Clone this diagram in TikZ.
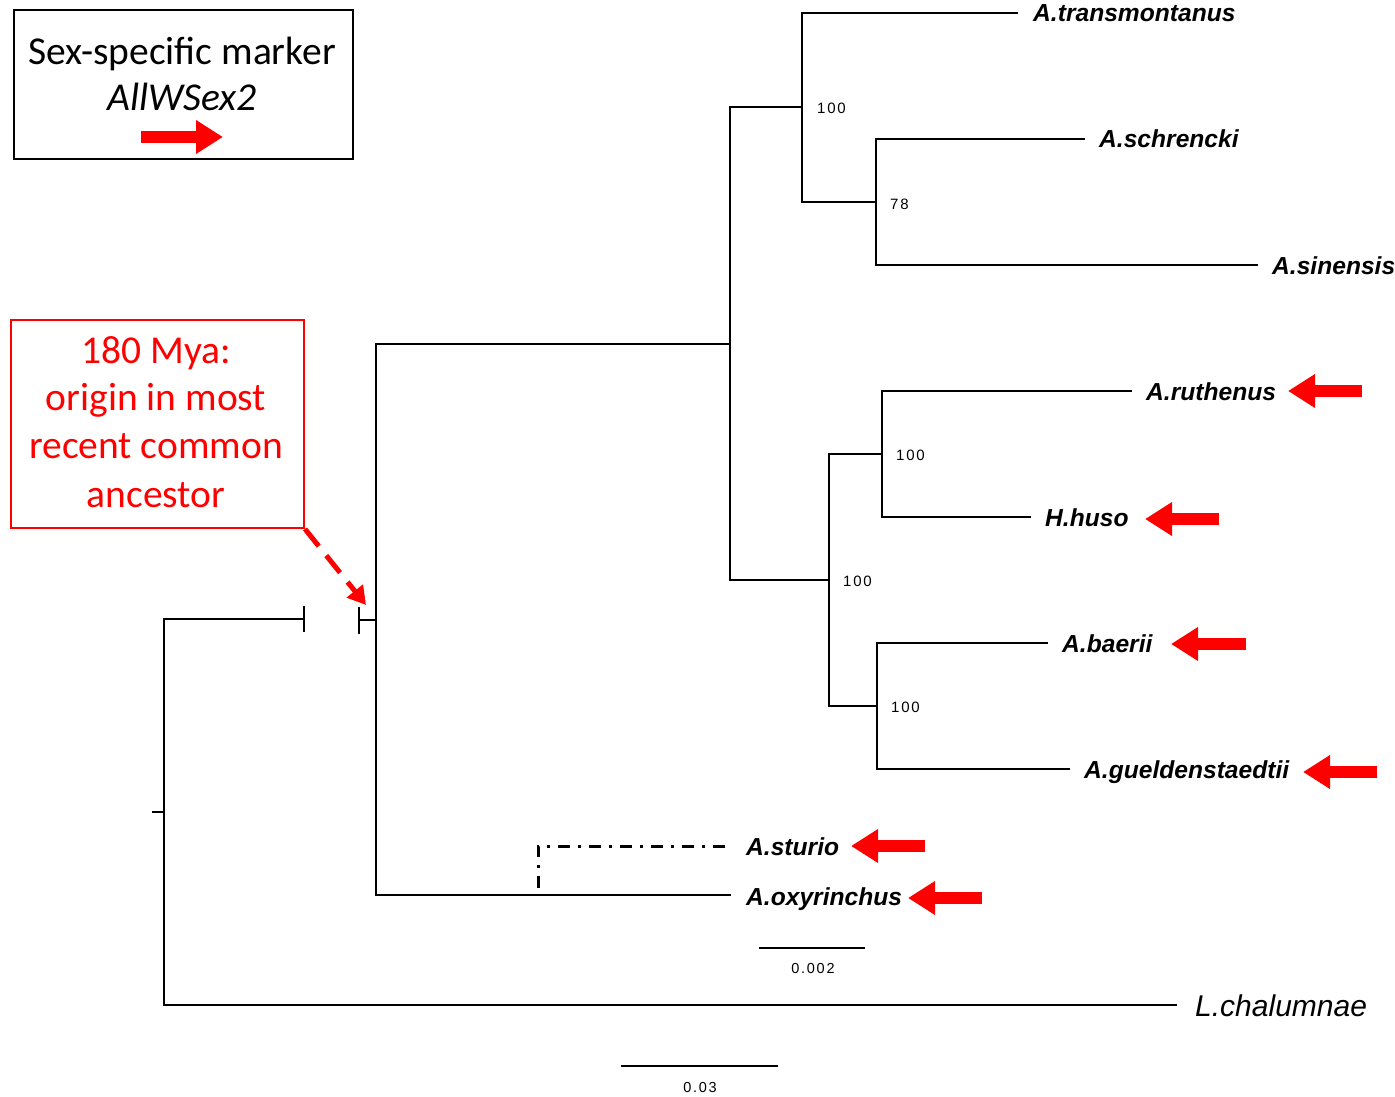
\documentclass[tikz,border=0pt]{standalone}
\usepackage{fontspec}
\usetikzlibrary{arrows.meta}
\newfontfamily\calib{Carlito}
\newfontfamily\helv{Liberation Sans}
\newfontfamily\numf[LetterSpace=12]{Liberation Sans}
\definecolor{mred}{RGB}{255,0,0}
\tikzset{
  br/.style={line width=2pt, line cap=rect},
  sp/.style={anchor=base west, inner sep=0pt, font=\helv\bfseries\itshape\fontsize{24.6}{28}\selectfont},
  bs/.style={anchor=base west, inner sep=0pt, font=\numf\fontsize{15}{18}\selectfont},
  sc/.style={anchor=base, inner sep=0pt, font=\numf\fontsize{14.5}{18}\selectfont},
  marker/.style={draw=mred, line width=12pt, -{Triangle[length=27pt,width=32pt]}},
  annot/.style={anchor=base, inner sep=0pt, text=mred, font=\calib\fontsize{39.5}{48}\selectfont},
}
\begin{document}
\begin{tikzpicture}[x=1pt,y=-1pt]
\useasboundingbox (0,0) rectangle (1395,1097);
% legend
\node[draw, line width=2pt, minimum width=339pt, minimum height=149pt, anchor=north west, inner sep=0pt] (legend) at (13,9) {};
\node[inner sep=0pt, font=\calib\fontsize{39.5}{44}\selectfont, anchor=base] (legtxt) at (182,65) {Sex-specific marker};
\node[inner sep=0pt, font=\calib\itshape\fontsize{39.5}{44}\selectfont, anchor=base] (legname) at (182,111) {AllWSex2};
\coordinate (la1) at (141,137); \coordinate (la2) at (223,137);
\draw[marker] (la1) -- (la2);
% red annotation box
\node[draw=mred, line width=2pt, minimum width=293pt, minimum height=208pt, anchor=north west, inner sep=0pt] (anno) at (10,319) {};
\node[annot] (an1) at (156,363) {180 Mya:};
\node[annot] (an2) at (156,410) {origin in most};
\node[annot] (an3) at (156,458) {recent common};
\node[annot] (an4) at (156,507) {ancestor};
\coordinate (atip) at (366,605);
\draw[mred, line width=5pt, dash pattern=on 22pt off 12pt, -{Triangle[length=18pt,width=20pt]}] (anno.south east) -- (atip);
% tree coordinates
\coordinate (root) at (164,812);
\coordinate (r1) at (164,619);
\coordinate (r2) at (164,1005);
\coordinate (b1) at (304,619);
\coordinate (b2) at (359,620);
\coordinate (n1) at (376,620);
\coordinate (n1t) at (376,344);
\coordinate (n1b) at (376,895);
\coordinate (n2) at (730,344);
\coordinate (n2t) at (730,107);
\coordinate (n2b) at (730,580);
\coordinate (n3) at (802,107);
\coordinate (n3t) at (802,13);
\coordinate (n3b) at (802,202);
\coordinate (n4) at (876,202);
\coordinate (n4t) at (876,139);
\coordinate (n4b) at (876,265);
\coordinate (n5) at (829,580);
\coordinate (n5t) at (829,454);
\coordinate (n5b) at (829,706);
\coordinate (n6) at (882,454);
\coordinate (n6t) at (882,391);
\coordinate (n6b) at (882,517);
\coordinate (n7) at (877,706);
\coordinate (n7t) at (877,643);
\coordinate (n7b) at (877,769);
\coordinate (n8) at (538,888);
\coordinate (n8t) at (538,846);
% tips
\coordinate (tTra) at (1017,13);
\coordinate (tSch) at (1084,139);
\coordinate (tSin) at (1257,265);
\coordinate (tRut) at (1131,391);
\coordinate (tHus) at (1030,517);
\coordinate (tBae) at (1047,643);
\coordinate (tGue) at (1069,769);
\coordinate (tStu) at (730,846);
\coordinate (tOxy) at (730,895);
\coordinate (tCha) at (1176,1005);
% root
\draw[br] (153,812) -- (root);
\draw[br] (r1) -- (r2);
\draw[br] (r1) -- (b1);
\draw[br] (304,607) -- (304,631);
\draw[br] (359,608) -- (359,633);
\draw[br] (b2) -- (n1);
\draw[br] (n1t) -- (n1b);
\draw[br] (n1t) -- (n2);
\draw[br] (n2t) -- (n2b);
\draw[br] (n2t) -- (n3);
\draw[br] (n3t) -- (n3b);
\draw[br] (n3t) -- (tTra);
\draw[br] (n3b) -- (n4);
\draw[br] (n4t) -- (n4b);
\draw[br] (n4t) -- (tSch);
\draw[br] (n4b) -- (tSin);
\draw[br] (n2b) -- (n5);
\draw[br] (n5t) -- (n5b);
\draw[br] (n5t) -- (n6);
\draw[br] (n6t) -- (n6b);
\draw[br] (n6t) -- (tRut);
\draw[br] (n6b) -- (tHus);
\draw[br] (n5b) -- (n7);
\draw[br] (n7t) -- (n7b);
\draw[br] (n7t) -- (tBae);
\draw[br] (n7b) -- (tGue);
\draw[br] (n1b) -- (tOxy);
\draw[line width=3pt, dash pattern=on 12pt off 8pt on 3pt off 8pt] (n8) -- (n8t) -- (tStu);
\draw[br] (r2) -- (tCha);
% bootstrap
\node[bs] (bs1) at (817,114) {100};
\node[bs] (bs2) at (890,209) {78};
\node[bs] (bs3) at (843,586) {100};
\node[bs] (bs4) at (896,460) {100};
\node[bs] (bs5) at (891,712) {100};
% species labels
\node[sp] (Tra) at (1033,22) {A.transmontanus};
\node[sp] (Sch) at (1099,148) {A.schrencki};
\node[sp] (Sin) at (1272,274) {A.sinensis};
\node[sp] (Rut) at (1146,400) {A.ruthenus};
\node[sp] (Hus) at (1045,526) {H.huso};
\node[sp] (Bae) at (1062,652) {A.baerii};
\node[sp] (Gue) at (1084,778) {A.gueldenstaedtii};
\node[sp] (Stu) at (746,855) {A.sturio};
\node[sp] (Oxy) at (746,905) {A.oxyrinchus};
\node[anchor=base west, inner sep=0pt, font=\helv\itshape\fontsize{30}{34}\selectfont] (Cha) at (1195,1016) {L.chalumnae};
% marker arrows
\coordinate (m1a) at (1362,391); \coordinate (m1b) at (1288,391);
\coordinate (m2a) at (1219,519); \coordinate (m2b) at (1145,519);
\coordinate (m3a) at (1246,644); \coordinate (m3b) at (1171,644);
\coordinate (m4a) at (1377,772); \coordinate (m4b) at (1303,772);
\coordinate (m5a) at (925,846); \coordinate (m5b) at (851,846);
\coordinate (m6a) at (982,898); \coordinate (m6b) at (908,898);
\draw[marker] (m1a) -- (m1b);
\draw[marker] (m2a) -- (m2b);
\draw[marker] (m3a) -- (m3b);
\draw[marker] (m4a) -- (m4b);
\draw[marker] (m5a) -- (m5b);
\draw[marker] (m6a) -- (m6b);
% scale bars
\coordinate (s1a) at (760,948); \coordinate (s1b) at (864,948);
\draw[br] (s1a) -- (s1b);
\node[sc] (s1l) at (813,973) {0.002};
\coordinate (s2a) at (622,1066); \coordinate (s2b) at (777,1066);
\draw[br] (s2a) -- (s2b);
\node[sc] (s2l) at (700,1092) {0.03};
\end{tikzpicture}
\end{document}
